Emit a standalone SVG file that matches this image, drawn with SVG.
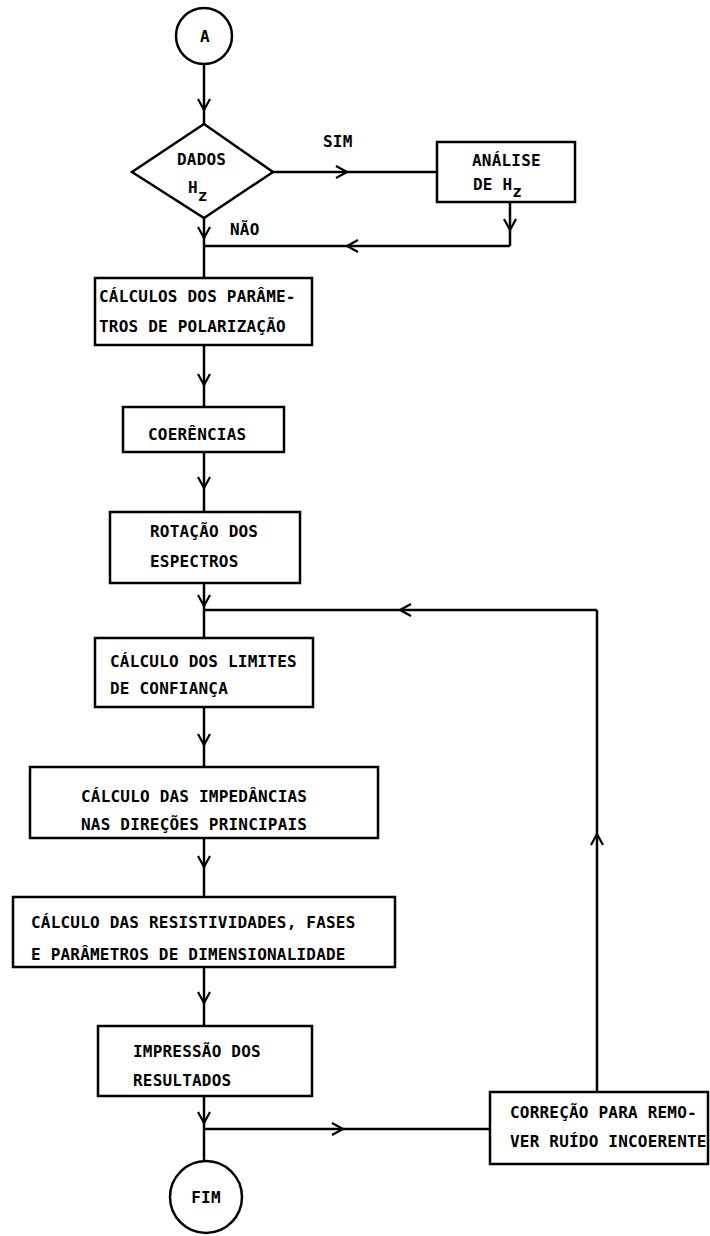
<svg xmlns="http://www.w3.org/2000/svg" width="710" height="1236" viewBox="0 0 710 1236">
<style>
.s{fill:none;stroke:#000;stroke-width:2.5}
.n{fill:#fff;stroke:#000;stroke-width:2.5}
.t{font-family:"DejaVu Sans Mono","Liberation Mono",monospace;font-weight:bold;font-size:16px;letter-spacing:0.2px;fill:#000}
</style>
<defs>
<marker id="chev" markerUnits="userSpaceOnUse" markerWidth="16" markerHeight="16" refX="12" refY="7" orient="auto" viewBox="0 0 16 14">
<path d="M1,1 L12,7 L1,13" fill="none" stroke="#000" stroke-width="2.2"/>
</marker>
</defs>
<g id="connectors" class="s">
<path d="M204,64 L204,110 L204,124" marker-mid="url(#chev)"/>
<path d="M273,172 L347,172 L437,172" marker-mid="url(#chev)"/>
<path d="M510,202 L510,230 L510,246" marker-mid="url(#chev)"/>
<path d="M510,246 L347,246 L204,246" marker-mid="url(#chev)"/>
<path d="M204,218 L204,238 L204,278" marker-mid="url(#chev)"/>
<path d="M204,345 L204,385 L204,407" marker-mid="url(#chev)"/>
<path d="M204,452 L204,488 L204,512" marker-mid="url(#chev)"/>
<path d="M204,583 L204,606 L204,638" marker-mid="url(#chev)"/>
<path d="M597,1092 L597,834 L597,610" marker-mid="url(#chev)"/>
<path d="M597,610 L400,610 L204,610" marker-mid="url(#chev)"/>
<path d="M204,707 L204,745 L204,767" marker-mid="url(#chev)"/>
<path d="M204,838 L204,867 L204,897" marker-mid="url(#chev)"/>
<path d="M204,967 L204,1003 L204,1026" marker-mid="url(#chev)"/>
<path d="M204,1096 L204,1123 L204,1160" marker-mid="url(#chev)"/>
<path d="M204,1129 L343,1129 L490,1129" marker-mid="url(#chev)"/>
</g>
<g id="labels">
<text class="t" x="323" y="147">SIM</text>
<text class="t" x="230" y="235">NÃO</text>
</g>
<g id="start">
<circle class="n" cx="204" cy="36" r="28"/>
<text class="t" x="205" y="42" text-anchor="middle">A</text>
</g>
<g id="decision">
<polygon class="n" points="204,124 273,172 204,218 132,172"/>
<text class="t" x="177" y="165">DADOS</text>
<text class="t" x="188" y="193">H<tspan dy="8">z</tspan></text>
</g>
<g id="analise">
<rect class="n" x="437" y="142" width="138" height="60"/>
<text class="t" x="472" y="166">ANÁLISE</text>
<text class="t" x="473" y="190">DE H<tspan dy="7">z</tspan></text>
</g>
<g id="calculos">
<rect class="n" x="95" y="278" width="217" height="67"/>
<text class="t" x="99" y="302">CÁLCULOS DOS PARÂME-</text>
<text class="t" x="99" y="332">TROS DE POLARIZAÇÃO</text>
</g>
<g id="coerencias">
<rect class="n" x="123" y="407" width="161" height="45"/>
<text class="t" x="148" y="440">COERÊNCIAS</text>
</g>
<g id="rotacao">
<rect class="n" x="110" y="512" width="190" height="71"/>
<text class="t" x="150" y="537">ROTAÇÃO DOS</text>
<text class="t" x="150" y="567">ESPECTROS</text>
</g>
<g id="limites">
<rect class="n" x="95" y="638" width="218" height="69"/>
<text class="t" x="110" y="667">CÁLCULO DOS LIMITES</text>
<text class="t" x="110" y="694">DE CONFIANÇA</text>
</g>
<g id="impedancias">
<rect class="n" x="30" y="767" width="348" height="71"/>
<text class="t" x="81" y="802">CÁLCULO DAS IMPEDÂNCIAS</text>
<text class="t" x="81" y="830">NAS DIREÇÕES PRINCIPAIS</text>
</g>
<g id="resistividades">
<rect class="n" x="13" y="897" width="382" height="70"/>
<text class="t" x="31" y="928">CÁLCULO DAS RESISTIVIDADES, FASES</text>
<text class="t" x="31" y="960">E PARÂMETROS DE DIMENSIONALIDADE</text>
</g>
<g id="impressao">
<rect class="n" x="98" y="1026" width="214" height="70"/>
<text class="t" x="133" y="1057">IMPRESSÃO DOS</text>
<text class="t" x="133" y="1086">RESULTADOS</text>
</g>
<g id="correcao">
<rect class="n" x="490" y="1092" width="218" height="72"/>
<text class="t" x="510" y="1118">CORREÇÃO PARA REMO-</text>
<text class="t" x="510" y="1147">VER RUÍDO INCOERENTE</text>
</g>
<g id="fim">
<circle class="n" cx="206" cy="1197" r="36"/>
<text class="t" x="206" y="1203" text-anchor="middle">FIM</text>
</g>
</svg>
